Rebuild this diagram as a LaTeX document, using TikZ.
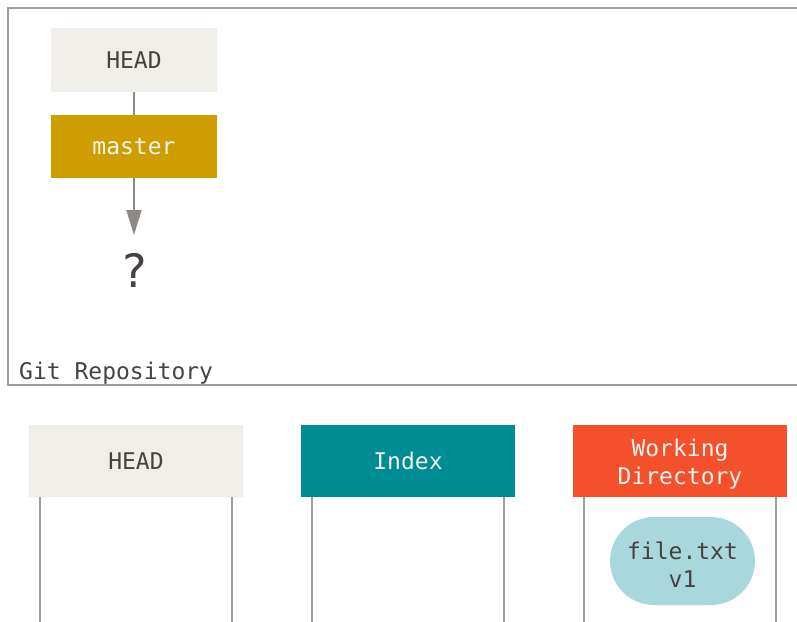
\documentclass[tikz,border=0pt]{standalone}
\usepackage{fontspec}
\setmonofont{DejaVu Sans Mono}
\usetikzlibrary{arrows.meta}
\definecolor{headfill}{HTML}{EFEEE8}
\definecolor{masterfill}{HTML}{CE9E00}
\definecolor{indexfill}{HTML}{008C93}
\definecolor{workfill}{HTML}{F4502B}
\definecolor{blobfill}{HTML}{A8D8DC}
\definecolor{linegray}{HTML}{A39E98}
\definecolor{arrowgray}{HTML}{8E8984}
\definecolor{textdark}{HTML}{47423F}
\definecolor{textlight}{HTML}{F2F2F0}
\tikzset{
  boxtext/.style={inner sep=0pt, font=\ttfamily\fontsize{23}{28}\selectfont, align=center},
  box/.style={boxtext, minimum width=214pt, minimum height=72pt},
  smallbox/.style={box, minimum width=166pt, minimum height=64pt},
  rail/.style={linegray, line width=2pt}
}

\begin{document}
\begin{tikzpicture}[x=1pt,y=-1pt]
  \useasboundingbox (0,0) rectangle (797,621);
  \clip (0,0) rectangle (797,621);
  % repository
  \draw[linegray, line width=2pt] (8,8) rectangle (830,385);
  \node[boxtext, anchor=base west, text=textdark] (repo) at (19,379) {Git Repository};
  \node[smallbox, fill=headfill, text=textdark] (headT) at (134,60) {HEAD};
  \node[smallbox, fill=masterfill, text=textlight, minimum height=63pt] (mst) at (134,146.5) {master};
  \node[font=\ttfamily\fontsize{46}{46}\selectfont, text=textdark, inner sep=0pt] (q) at (134,270) {?};
  \coordinate (tip) at (134,235);
  \draw[arrowgray, line width=2pt] (headT) -- (mst);
  \draw[arrowgray, line width=2pt, -{Triangle[width=15pt,length=25pt]}] (mst) -- (tip);
  % three trees
  \node[box, fill=headfill, text=textdark] (headB) at (136,461) {HEAD};
  \node[box, fill=indexfill, text=textlight] (idx) at (408,461) {Index};
  \node[box, fill=workfill] (wd) at (680,461) {};
  \node[boxtext, text=textlight] (wdtext) at ([yshift=-3.5pt]wd.center) {Working\\Directory};
  \foreach \n in {headB,idx,wd} {
    \coordinate (\n-l) at ([xshift=11pt]\n.south west);
    \coordinate (\n-r) at ([xshift=-11pt]\n.south east);
    \draw[rail] (\n-l) -- ++(0,130);
    \draw[rail] (\n-r) -- ++(0,130);
  }
  \node[fill=blobfill, minimum width=145pt, minimum height=88pt, rounded corners=44pt] (blob) at (682.5,561) {};
  \node[boxtext, text=textdark] (blobtext) at ([yshift=-4pt]blob.center) {file.txt\\v1};
\end{tikzpicture}
\end{document}
